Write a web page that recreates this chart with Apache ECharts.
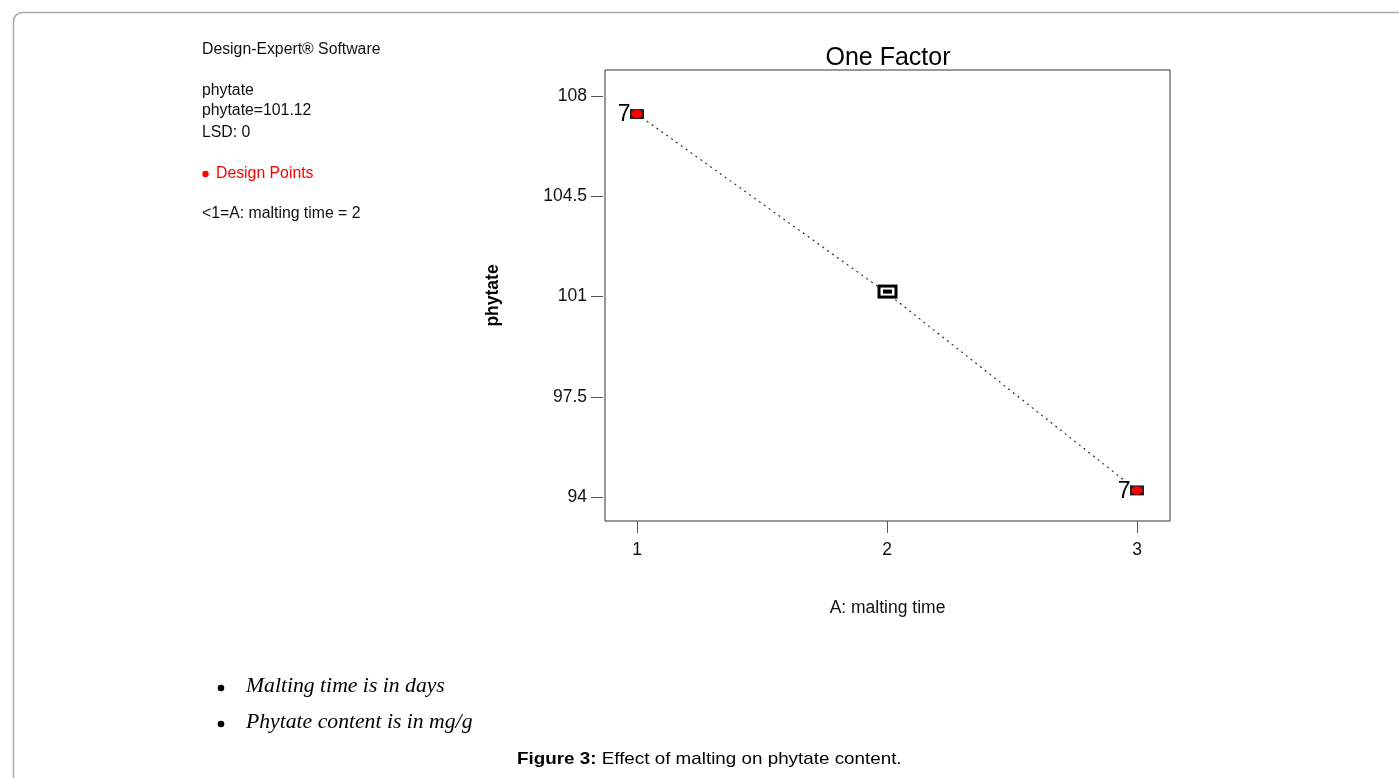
<!DOCTYPE html>
<html>
<head>
<meta charset="utf-8">
<script src="https://cdn.jsdelivr.net/npm/echarts@6/dist/echarts.min.js"></script>
<style>
html,body{margin:0;padding:0;background:#fff;}
#chart{width:1399px;height:778px;}
</style>
</head>
<body>
<div id="chart"></div>
<script>
// ---- data ----
const maltingTime = [1, 2, 3];
const phytate = [107.37, 101.12, 94.23];
const pointKinds = ['design', 'setting', 'design'];
const pointLabels = ['7', '', '7'];
const xTicks = [1, 2, 3];
const yTicks = [94, 97.5, 101, 104.5, 108];
const infoLines = ['phytate', 'phytate=101.12', 'LSD: 0'];
const noteLines = ['Malting time is in days', 'Phytate content is in mg/g'];

const chart = echarts.init(document.getElementById('chart'), null, {renderer: 'canvas'});

const pts = maltingTime.map((x, i) => [x, phytate[i], i]);

const sans = 'Liberation Sans, Arial, sans-serif';
const serifItalic = 'italic 21.7px Liberation Serif, Times New Roman, serif';
const infoFont = '15.8px ' + sans;

const option = {
  animation: false,
  backgroundColor: '#fff',
  title: {
    text: 'One Factor',
    left: 883, top: 41,
    textAlign: 'center',
    textStyle: {fontFamily: sans, fontSize: 25, fontWeight: 'normal', color: '#000'}
  },
  grid: {
    left: 605, top: 70, width: 565, height: 451,
    show: true, borderColor: '#333', borderWidth: 1, backgroundColor: 'transparent'
  },
  xAxis: {
    type: 'value', min: 0.872, max: 3.132,
    axisLine: {show: false},
    axisTick: {show: true, length: 12, customValues: xTicks, lineStyle: {color: '#555', width: 1}},
    axisLabel: {customValues: xTicks, margin: 20, fontFamily: sans, fontSize: 17.5, color: '#111'},
    splitLine: {show: false},
    name: 'A: malting time', nameLocation: 'middle', nameGap: 78,
    nameTextStyle: {fontFamily: sans, fontSize: 17.5, color: '#111'}
  },
  yAxis: {
    type: 'value', min: 93.162, max: 108.908, offset: 2,
    axisLine: {show: false},
    axisTick: {show: true, length: 12, customValues: yTicks, lineStyle: {color: '#555', width: 1}},
    axisLabel: {customValues: yTicks, margin: 16, fontFamily: sans, fontSize: 17.5, color: '#111'},
    splitLine: {show: false},
    name: 'phytate', nameLocation: 'middle', nameGap: 101, nameRotate: 90,
    nameTextStyle: {fontFamily: sans, fontSize: 17.5, fontWeight: 'bold', color: '#000'}
  },
  series: [
    {
      type: 'line',
      data: pts.map(p => [p[0], p[1]]),
      symbol: 'none',
      lineStyle: {type: [2, 4], color: '#222', width: 1.1},
      z: 1
    },
    {
      type: 'custom',
      data: pts,
      z: 3,
      renderItem: function (params, api) {
        const c = api.coord([api.value(0), api.value(1)]);
        const idx = api.value(2);
        const kind = pointKinds[idx];
        const children = [];
        if (kind === 'design') {
          children.push({type: 'rect', shape: {x: c[0] - 7, y: c[1] - 5, width: 14, height: 10}, style: {fill: '#222'}});
          children.push({type: 'ellipse', shape: {cx: c[0], cy: c[1], rx: 5.6, ry: 4}, style: {fill: '#ff0000'}});
        } else {
          children.push({type: 'rect', shape: {x: c[0] - 9.5, y: c[1] - 8.5, width: 20, height: 14}, style: {fill: '#000'}});
          children.push({type: 'rect', shape: {x: c[0] - 6.5, y: c[1] - 5.5, width: 14, height: 8}, style: {fill: '#fff'}});
          children.push({type: 'rect', shape: {x: c[0] - 4, y: c[1] - 3.5, width: 9, height: 4}, style: {fill: '#000'}});
        }
        const lab = pointLabels[idx];
        if (lab) {
          children.push({type: 'text', x: c[0] - 6.5, y: c[1] + 1,
            style: {text: lab, fill: '#000', font: '23px ' + sans, textAlign: 'right', textVerticalAlign: 'middle'}});
        }
        return {type: 'group', children: children};
      }
    }
  ],
  graphic: [
    {type: 'rect', left: 11, top: 10, shape: {width: 1500, height: 900, r: 9}, style: {fill: 'none', stroke: '#aaa', lineWidth: 1.5}, silent: true},
    {type: 'text', left: 202, top: 42, style: {text: 'Design-Expert® Software', font: infoFont, fill: '#111'}},
    {type: 'text', left: 202, top: 83, style: {text: infoLines[0], font: infoFont, fill: '#111'}},
    {type: 'text', left: 202, top: 103, style: {text: infoLines[1], font: infoFont, fill: '#111'}},
    {type: 'text', left: 202, top: 125, style: {text: infoLines[2], font: infoFont, fill: '#111'}},
    {type: 'circle', shape: {cx: 205.5, cy: 174, r: 3.2}, style: {fill: '#ff0000'}},
    {type: 'text', left: 216, top: 166, style: {text: 'Design Points', font: infoFont, fill: '#ff0000'}},
    {type: 'text', left: 202, top: 206, style: {text: '<1=A: malting time = 2', font: infoFont, fill: '#111'}},
    {type: 'circle', shape: {cx: 221, cy: 688, r: 3.3}, style: {fill: '#000'}},
    {type: 'text', left: 246, top: 675, style: {text: noteLines[0], font: serifItalic, fill: '#000'}},
    {type: 'circle', shape: {cx: 221, cy: 724, r: 3.3}, style: {fill: '#000'}},
    {type: 'text', left: 246, top: 711, style: {text: noteLines[1], font: serifItalic, fill: '#000'}},
    {type: 'text', x: 517, y: 751, scaleX: 1.107, style: {
      text: '{b|Figure 3:} Effect of malting on phytate content.',
      font: '17px ' + sans, fill: '#000',
      rich: {b: {fontWeight: 'bold', fontSize: 17, fontFamily: sans}}
    }}
  ]
};
chart.setOption(option);
</script>
</body>
</html>
